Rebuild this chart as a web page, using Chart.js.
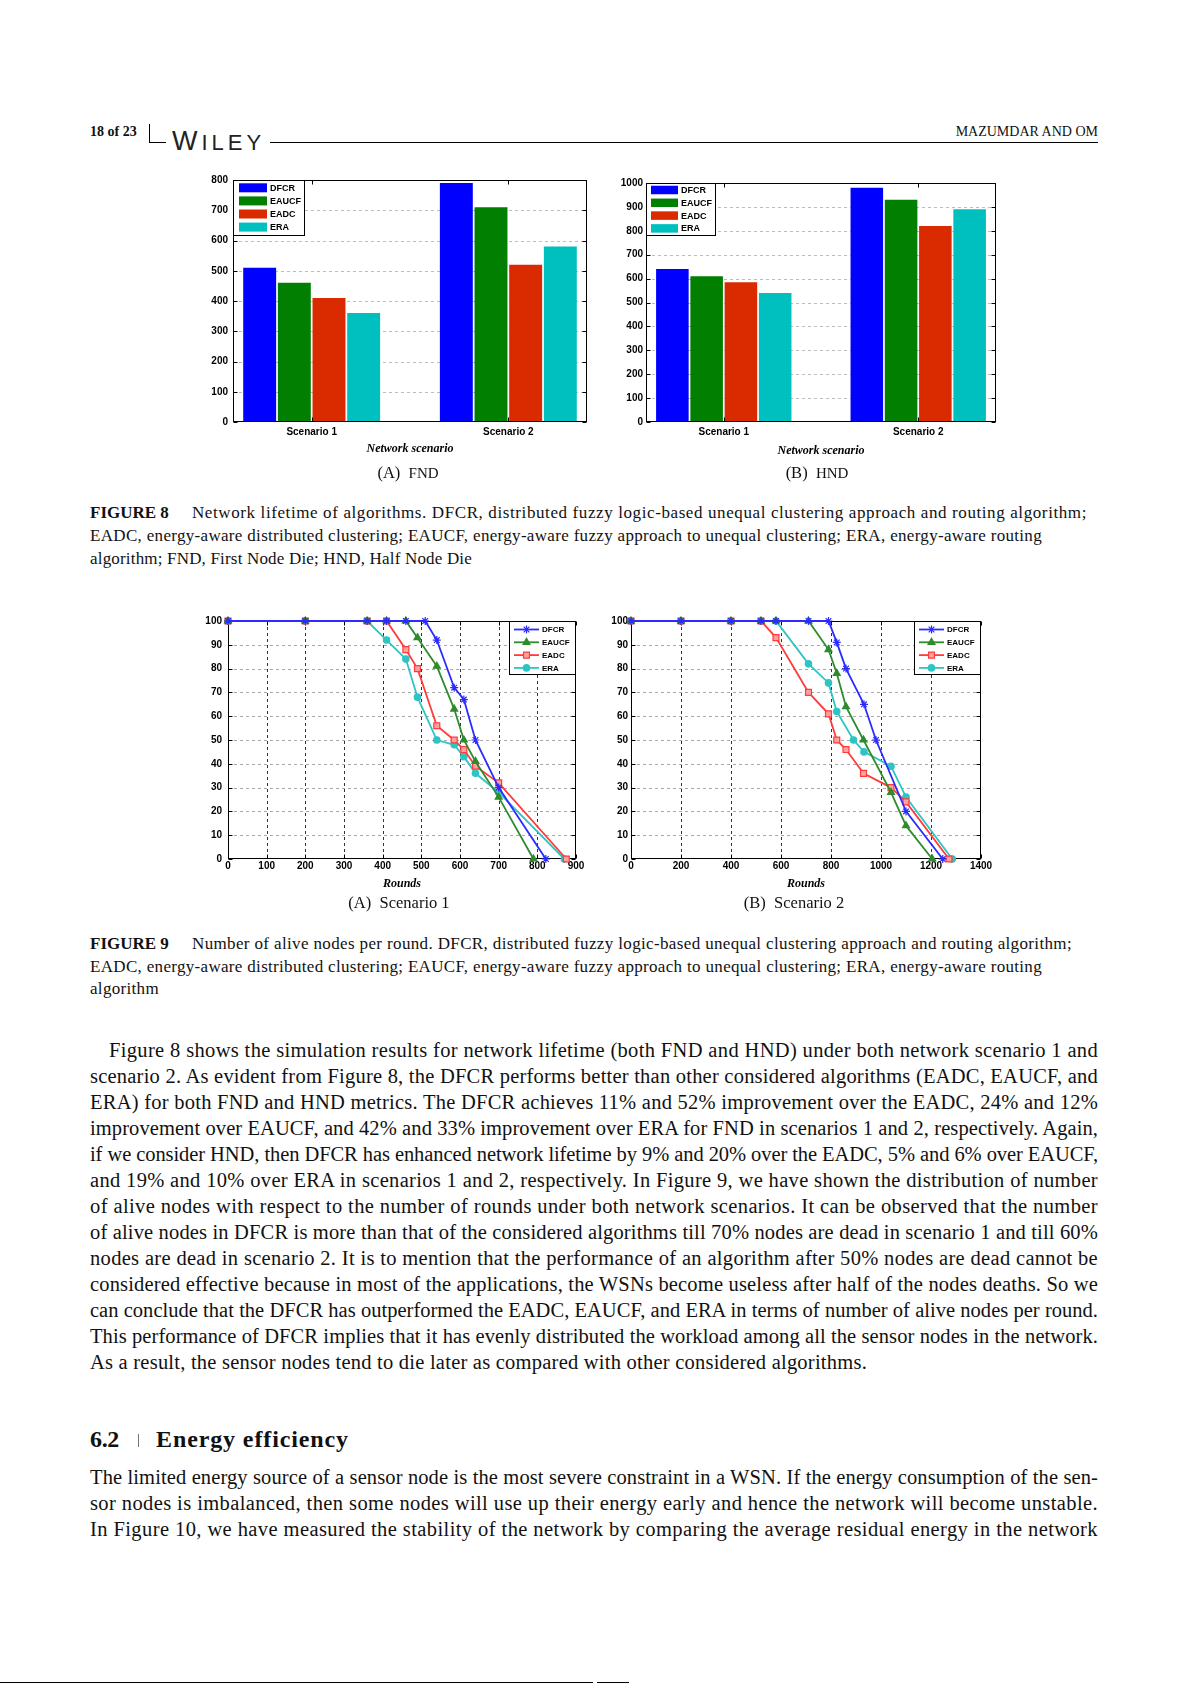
<!DOCTYPE html>
<html><head><meta charset="utf-8">
<script src="https://cdn.jsdelivr.net/npm/chart.js@4/dist/chart.umd.min.js"></script>
<style>
html,body{margin:0;padding:0;background:#fff;}
body{width:1191px;height:1685px;position:relative;overflow:hidden;}
.t{position:absolute;white-space:nowrap;font-family:"Liberation Serif","Times New Roman",serif;line-height:1.2;color:#111;}
.cap{font-size:17px;}
.body{font-size:20.5px;}
.sub{font-size:16.5px;}
canvas{position:absolute;}
.rule{position:absolute;background:#000;}
</style></head><body>

<!-- running header -->
<div class="t" data-x="90" data-y="133" style="font-size:14px;font-weight:bold;">18 of 23</div>
<div class="rule" style="left:149px;top:124px;width:1px;height:18px;"></div>
<div class="rule" style="left:149px;top:142px;width:949px;height:1px;"></div>
<div style="position:absolute;left:166px;top:128px;background:#fff;padding:0 5px 0 6px;font-family:'Liberation Sans',sans-serif;font-size:27px;line-height:1;letter-spacing:4px;color:#222;"><span>W</span><span style="font-size:22px;">ILEY</span></div>
<div class="t" data-x="1098" data-r="1" data-y="133" style="font-size:14px;">MAZUMDAR AND OM</div>

<!-- Figure 8 -->
<canvas id="c8a" width="430" height="300" style="left:180px;top:165px;width:430px;height:300px;"></canvas>
<canvas id="c8b" width="400" height="300" style="left:610px;top:165px;width:400px;height:300px;"></canvas>
<div class="t sub" data-cx="408" data-y="474">(A)&nbsp; <span style="font-size:15px;">FND</span></div>
<div class="t sub" data-cx="817" data-y="474">(B)&nbsp; <span style="font-size:15px;">HND</span></div>

<div class="t cap" data-x="90" data-y="514" style="font-weight:bold;">FIGURE 8</div>
<div class="t cap" data-x="192" data-y="514" data-w="895" data-j="1">Network lifetime of algorithms. DFCR, distributed fuzzy logic-based unequal clustering approach and routing algorithm;</div>
<div class="t cap" data-x="90" data-y="537" data-w="952" data-j="1">EADC, energy-aware distributed clustering; EAUCF, energy-aware fuzzy approach to unequal clustering; ERA, energy-aware routing</div>
<div class="t cap" data-x="90" data-y="560" data-w="383">algorithm; FND, First Node Die; HND, Half Node Die</div>

<!-- Figure 9 -->
<canvas id="c9a" width="408" height="290" style="left:190px;top:606px;width:408px;height:290px;"></canvas>
<canvas id="c9b" width="405" height="290" style="left:600px;top:606px;width:405px;height:290px;"></canvas>
<div class="t sub" data-cx="399" data-y="904">(A)&nbsp; Scenario 1</div>
<div class="t sub" data-cx="794" data-y="904">(B)&nbsp; Scenario 2</div>

<div class="t cap" data-x="90" data-y="945" style="font-weight:bold;">FIGURE 9</div>
<div class="t cap" data-x="192" data-y="945" data-w="880" data-j="1">Number of alive nodes per round. DFCR, distributed fuzzy logic-based unequal clustering approach and routing algorithm;</div>
<div class="t cap" data-x="90" data-y="968" data-w="952" data-j="1">EADC, energy-aware distributed clustering; EAUCF, energy-aware fuzzy approach to unequal clustering; ERA, energy-aware routing</div>
<div class="t cap" data-x="90" data-y="990" data-w="70">algorithm</div>

<!-- body paragraph -->
<div class="t body" data-x="109" data-y="1051" data-w="989" data-j="1">Figure 8 shows the simulation results for network lifetime (both FND and HND) under both network scenario 1 and</div>
<div class="t body" data-x="90" data-y="1077" data-w="1008" data-j="1">scenario 2. As evident from Figure 8, the DFCR performs better than other considered algorithms (EADC, EAUCF, and</div>
<div class="t body" data-x="90" data-y="1103" data-w="1008" data-j="1">ERA) for both FND and HND metrics. The DFCR achieves 11% and 52% improvement over the EADC, 24% and 12%</div>
<div class="t body" data-x="90" data-y="1129" data-w="1008" data-j="1">improvement over EAUCF, and 42% and 33% improvement over ERA for FND in scenarios 1 and 2, respectively. Again,</div>
<div class="t body" data-x="90" data-y="1155" data-w="1008" data-j="1">if we consider HND, then DFCR has enhanced network lifetime by 9% and 20% over the EADC, 5% and 6% over EAUCF,</div>
<div class="t body" data-x="90" data-y="1181" data-w="1008" data-j="1">and 19% and 10% over ERA in scenarios 1 and 2, respectively. In Figure 9, we have shown the distribution of number</div>
<div class="t body" data-x="90" data-y="1207" data-w="1008" data-j="1">of alive nodes with respect to the number of rounds under both network scenarios. It can be observed that the number</div>
<div class="t body" data-x="90" data-y="1233" data-w="1008" data-j="1">of alive nodes in DFCR is more than that of the considered algorithms till 70% nodes are dead in scenario 1 and till 60%</div>
<div class="t body" data-x="90" data-y="1259" data-w="1008" data-j="1">nodes are dead in scenario 2. It is to mention that the performance of an algorithm after 50% nodes are dead cannot be</div>
<div class="t body" data-x="90" data-y="1285" data-w="1008" data-j="1">considered effective because in most of the applications, the WSNs become useless after half of the nodes deaths. So we</div>
<div class="t body" data-x="90" data-y="1311" data-w="1008" data-j="1">can conclude that the DFCR has outperformed the EADC, EAUCF, and ERA in terms of number of alive nodes per round.</div>
<div class="t body" data-x="90" data-y="1337" data-w="1008" data-j="1">This performance of DFCR implies that it has evenly distributed the workload among all the sensor nodes in the network.</div>
<div class="t body" data-x="90" data-y="1363" data-w="778">As a result, the sensor nodes tend to die later as compared with other considered algorithms.</div>

<!-- section heading -->
<div class="t" data-x="90" data-y="1440" data-w="30" style="font-size:24px;font-weight:bold;">6.2</div>
<div class="rule" style="left:138px;top:1434px;width:1px;height:13px;background:#777;"></div>
<div class="t" data-x="156" data-y="1440" data-w="194" style="font-size:24px;font-weight:bold;">Energy efficiency</div>

<div class="t body" data-x="90" data-y="1478" data-w="1008" data-j="1">The limited energy source of a sensor node is the most severe constraint in a WSN. If the energy consumption of the sen-</div>
<div class="t body" data-x="90" data-y="1504" data-w="1008" data-j="1">sor nodes is imbalanced, then some nodes will use up their energy early and hence the network will become unstable.</div>
<div class="t body" data-x="90" data-y="1530" data-w="1008" data-j="1">In Figure 10, we have measured the stability of the network by comparing the average residual energy in the network</div>

<div class="rule" style="left:0;top:1682px;width:593px;height:1px;"></div>
<div class="rule" style="left:597px;top:1682px;width:32px;height:1px;"></div>

<script>
// ---------------- DATA ----------------
const scenarios = ['Scenario 1', 'Scenario 2'];
const algorithms = ['DFCR', 'EAUCF', 'EADC', 'ERA'];

// Figure 8 (A) FND - rounds until first node dies
const fndDFCR = [510, 790];
const fndEAUCF = [460, 710];
const fndEADC = [410, 520];
const fndERA = [360, 580];

// Figure 8 (B) HND - rounds until half of the nodes die
const hndDFCR = [640, 980];
const hndEAUCF = [610, 930];
const hndEADC = [585, 820];
const hndERA = [540, 890];

// Figure 9 (A) Scenario 1 - alive nodes per round
const s1RoundsDFCR = [0, 200, 360, 410, 460, 510, 540, 585, 610, 640, 700, 822];
const s1AliveDFCR  = [100, 100, 100, 100, 100, 100, 92, 72, 67, 50, 30, 0];
const s1RoundsEAUCF = [0, 200, 360, 410, 460, 490, 540, 585, 610, 640, 700, 790];
const s1AliveEAUCF  = [100, 100, 100, 100, 100, 93, 81, 63, 50, 41, 26, 0];
const s1RoundsEADC = [0, 200, 360, 410, 460, 490, 540, 585, 610, 640, 700, 875];
const s1AliveEADC  = [100, 100, 100, 100, 88, 80, 56, 50, 46, 39, 32, 0];
const s1RoundsERA = [0, 200, 360, 410, 460, 490, 540, 585, 610, 640, 700, 870];
const s1AliveERA  = [100, 100, 100, 92, 84, 68, 50, 48, 43, 36, 28, 0];

// Figure 9 (B) Scenario 2 - alive nodes per round
const s2RoundsDFCR = [0, 200, 400, 520, 580, 710, 790, 823, 860, 932, 980, 1100, 1247];
const s2AliveDFCR  = [100, 100, 100, 100, 100, 100, 100, 91, 80, 65, 50, 20, 0];
const s2RoundsEAUCF = [0, 200, 400, 520, 580, 710, 790, 823, 860, 930, 1040, 1100, 1205];
const s2AliveEAUCF  = [100, 100, 100, 100, 100, 100, 88, 78, 64, 50, 28, 14, 0];
const s2RoundsEADC = [0, 200, 400, 520, 580, 710, 790, 823, 860, 930, 1040, 1100, 1272];
const s2AliveEADC  = [100, 100, 100, 100, 93, 70, 61, 50, 46, 36, 30, 24, 0];
const s2RoundsERA = [0, 200, 400, 520, 580, 710, 790, 823, 890, 932, 1040, 1100, 1285];
const s2AliveERA  = [100, 100, 100, 100, 100, 82, 74, 62, 50, 45, 39, 26, 0];

// ---------------- TEXT PLACEMENT ----------------
document.querySelectorAll('.t').forEach(el => {
  const fs = parseFloat(getComputedStyle(el).fontSize);
  if (el.dataset.w) {
    const target = +el.dataset.w;
    const w = el.getBoundingClientRect().width;
    const n = el.textContent.length;
    el.style.letterSpacing = ((target - w - 1) / n) + 'px';
    if (el.dataset.j) {
      el.style.width = target + 'px';
      el.style.textAlign = 'justify';
      el.style.textAlignLast = 'justify';
    }
  }
  const w2 = el.getBoundingClientRect().width;
  let x = +el.dataset.x;
  if (el.dataset.cx) x = +el.dataset.cx - w2 / 2;
  if (el.dataset.r) x = +el.dataset.x - w2;
  el.style.left = x + 'px';
  el.style.top = (+el.dataset.y - 0.64 * fs) + 'px';
});

// ---------------- CHARTS ----------------
Chart.defaults.font.family = '"Liberation Sans", Arial, sans-serif';
Chart.defaults.font.size = 10;
Chart.defaults.font.weight = 'bold';
Chart.defaults.color = '#000';

const framePlugin = {
  id: 'frame',
  beforeDatasetsDraw(chart, args, o) {
    const {ctx, chartArea: a} = chart;
    const x = chart.scales.x, y = chart.scales.y;
    ctx.save();
    ctx.lineWidth = 1;
    if (o.hColor) {
      ctx.strokeStyle = o.hColor; ctx.setLineDash([3, 3]);
      y.ticks.forEach(t => {
        const py = Math.round(y.getPixelForValue(t.value)) + 0.5;
        if (py > a.top + 1 && py < a.bottom - 1) { ctx.beginPath(); ctx.moveTo(a.left, py); ctx.lineTo(a.right, py); ctx.stroke(); }
      });
    }
    if (o.vColor) {
      ctx.strokeStyle = o.vColor; ctx.setLineDash([3, 3]);
      x.ticks.forEach(t => {
        const px = Math.round(x.getPixelForValue(t.value)) + 0.5;
        if (px > a.left + 1 && px < a.right - 1) { ctx.beginPath(); ctx.moveTo(px, a.top); ctx.lineTo(px, a.bottom); ctx.stroke(); }
      });
    }
    ctx.setLineDash([]);
    if (!o.onTop) drawFrame(chart, o);
    ctx.restore();
  },
  afterDatasetsDraw(chart, args, o) {
    if (o.onTop) { chart.ctx.save(); drawFrame(chart, o); chart.ctx.restore(); }
  }
};
function drawFrame(chart, o) {
  const {ctx, chartArea: a} = chart;
  const x = chart.scales.x, y = chart.scales.y;
  ctx.strokeStyle = '#000'; ctx.lineWidth = 1; ctx.setLineDash([]);
  const L = Math.round(a.left) + 0.5, R = Math.round(a.right) - 0.5, T = Math.round(a.top) + 0.5, B = Math.round(a.bottom) - 0.5;
  ctx.strokeRect(L, T, R - L, B - T);
  const tl = 4;
  ctx.beginPath();
  x.ticks.forEach(t => {
    const px = Math.round(x.getPixelForValue(t.value)) + 0.5;
    ctx.moveTo(px, B); ctx.lineTo(px, B - tl); ctx.moveTo(px, T); ctx.lineTo(px, T + tl);
  });
  y.ticks.forEach(t => {
    const py = Math.round(y.getPixelForValue(t.value)) + 0.5;
    ctx.moveTo(L, py); ctx.lineTo(L + tl, py); ctx.moveTo(R, py); ctx.lineTo(R - tl, py);
  });
  ctx.stroke();
}

const legendPlugin = {
  id: 'insideLegend',
  afterDraw(chart, args, o) {
    const {ctx, chartArea: a} = chart;
    const x0 = Math.round(o.corner === 'tr' ? a.right - o.width : a.left);
    const y0 = Math.round(a.top);
    ctx.save();
    ctx.fillStyle = '#fff'; ctx.fillRect(x0, y0, o.width, o.height);
    ctx.strokeStyle = '#000'; ctx.lineWidth = 1; ctx.strokeRect(x0 + 0.5, y0 + 0.5, o.width - 1, o.height - 1);
    chart.data.datasets.forEach((ds, i) => {
      const cy = y0 + o.first + i * o.step;
      if (o.kind === 'bar') {
        ctx.fillStyle = ds.backgroundColor;
        ctx.fillRect(x0 + o.sx, cy - o.sh / 2, o.sw, o.sh);
      } else {
        ctx.strokeStyle = ds.borderColor; ctx.lineWidth = 1.8;
        ctx.beginPath(); ctx.moveTo(x0 + o.sx, cy); ctx.lineTo(x0 + o.sx + o.sw, cy); ctx.stroke();
        ctx.fillStyle = ds.pointBackgroundColor; ctx.strokeStyle = ds.pointBorderColor; ctx.lineWidth = ds.pointBorderWidth;
        if (Chart.helpers && Chart.helpers.drawPoint) {
          Chart.helpers.drawPoint(ctx, {pointStyle: ds.pointStyle, radius: ds.pointRadius, borderWidth: ds.pointBorderWidth, rotation: 0}, x0 + o.sx + o.sw / 2, cy);
        }
      }
      ctx.fillStyle = '#000';
      ctx.font = 'bold ' + o.fontSize + 'px "Liberation Sans", Arial, sans-serif';
      ctx.textBaseline = 'middle'; ctx.textAlign = 'left';
      ctx.fillText(ds.label, x0 + o.tx, cy + 0.5);
    });
    ctx.restore();
  }
};

const barColors = ['#0000ff', '#007f00', '#d92a00', '#00bfbf'];
const plainNumber = v => String(v);

function barChart(id, series, yMax, g, lg) {
  return new Chart(document.getElementById(id), {
    type: 'bar',
    data: {
      datasets: algorithms.map((name, k) => ({
        label: name,
        data: series[k].map((v, i) => ({x: i + 1, y: v})),
        backgroundColor: barColors[k],
        borderWidth: 0,
        categoryPercentage: 0.705,
        barPercentage: 0.95
      }))
    },
    options: {
      responsive: false, animation: false, devicePixelRatio: 1,
      layout: {padding: {left: 0, top: g.padTop, right: g.padRight, bottom: 0}},
      plugins: {
        legend: {display: false}, tooltip: {enabled: false},
        frame: {hColor: '#bdbdbd', onTop: true},
        insideLegend: Object.assign({kind: 'bar', corner: 'tl'}, lg)
      },
      scales: {
        x: {
          type: 'linear', min: 0.6, max: 2.4, offset: false,
          grid: {display: false, drawTicks: false}, border: {display: false},
          afterBuildTicks: s => { s.ticks = scenarios.map((_, i) => ({value: i + 1})); },
          afterFit: s => { s.height = g.xH; },
          ticks: {callback: v => scenarios[Math.round(v) - 1], padding: g.xPad, maxRotation: 0, autoSkip: false, font: {size: 10, weight: 'bold'}},
          title: {display: true, text: 'Network scenario', font: {family: '"Liberation Serif", serif', size: 12, style: 'italic', weight: 'bold'}, padding: {top: 0, bottom: g.titlePad}}
        },
        y: {
          min: 0, max: yMax,
          grid: {display: false, drawTicks: false}, border: {display: false},
          ticks: {stepSize: 100, padding: g.yPad, callback: plainNumber, font: {size: 10, weight: 'bold'}},
          afterFit: s => { s.width = g.yW; }
        }
      }
    },
    plugins: [framePlugin, legendPlugin]
  });
}

barChart('c8a', [fndDFCR, fndEAUCF, fndEADC, fndERA], 800,
  {padTop: 15, padRight: 23, xH: 43, xPad: 4, titlePad: 9, yPad: 5, yW: 53},
  {width: 72, height: 56, first: 7.8, step: 13.1, sx: 6, sw: 28, sh: 9, tx: 37, fontSize: 9});
barChart('c8b', [hndDFCR, hndEAUCF, hndEADC, hndERA], 1000,
  {padTop: 18, padRight: 14, xH: 43, xPad: 4, titlePad: 7, yPad: 3, yW: 36},
  {width: 70, height: 53, first: 7, step: 12.8, sx: 5, sw: 27, sh: 8.5, tx: 35, fontSize: 9});

const lineStyles = [
  {color: '#2b2bff', fill: '#2b2bff', pt: 'star', r: 4},
  {color: '#2e8b2e', fill: '#2e8b2e', pt: 'triangle', r: 4},
  {color: '#ff3b3b', fill: '#ffa0a0', pt: 'rect', r: 4.2},
  {color: '#2ec4c4', fill: '#2ec4c4', pt: 'circle', r: 3.2}
];

function lineChart(id, rounds, alive, xMax, xStep, g) {
  return new Chart(document.getElementById(id), {
    type: 'line',
    data: {
      datasets: algorithms.map((name, k) => ({
        label: name,
        data: rounds[k].map((r, i) => ({x: r, y: alive[k][i]})),
        borderColor: lineStyles[k].color,
        backgroundColor: lineStyles[k].fill,
        pointStyle: lineStyles[k].pt,
        pointRadius: lineStyles[k].r,
        pointBorderColor: lineStyles[k].color,
        pointBackgroundColor: lineStyles[k].fill,
        pointBorderWidth: 1.2,
        borderWidth: 1.8,
        tension: 0,
        fill: false,
        clip: 8
      }))
    },
    options: {
      responsive: false, animation: false, devicePixelRatio: 1,
      layout: {padding: {left: 0, top: g.padTop, right: g.padRight, bottom: 0}},
      plugins: {
        legend: {display: false}, tooltip: {enabled: false},
        frame: {hColor: '#a8a8a8', vColor: '#333333', onTop: false},
        insideLegend: {kind: 'line', corner: 'tr', width: 67, height: 54, first: 8.5, step: 12.8, sx: 5, sw: 25, tx: 33, fontSize: 8}
      },
      scales: {
        x: {
          type: 'linear', min: 0, max: xMax,
          grid: {display: false, drawTicks: false}, border: {display: false},
          ticks: {stepSize: xStep, padding: g.xPad, callback: plainNumber, maxRotation: 0, autoSkip: false, font: {size: 10, weight: 'bold'}},
          afterFit: s => { s.height = g.xH; },
          title: {display: true, text: 'Rounds', font: {family: '"Liberation Serif", serif', size: 12, style: 'italic', weight: 'bold'}, padding: {top: 0, bottom: g.titlePad}}
        },
        y: {
          min: 0, max: 100,
          grid: {display: false, drawTicks: false}, border: {display: false},
          ticks: {stepSize: 10, padding: g.yPad, callback: plainNumber, font: {size: 10, weight: 'bold'}},
          afterFit: s => { s.width = g.yW; }
        }
      }
    },
    plugins: [framePlugin, legendPlugin]
  });
}

lineChart('c9a',
  [s1RoundsDFCR, s1RoundsEAUCF, s1RoundsEADC, s1RoundsERA],
  [s1AliveDFCR, s1AliveEAUCF, s1AliveEADC, s1AliveERA],
  900, 100,
  {padTop: 15, padRight: 22, xH: 37, xPad: 1, titlePad: 5, yPad: 6, yW: 38});
lineChart('c9b',
  [s2RoundsDFCR, s2RoundsEAUCF, s2RoundsEADC, s2RoundsERA],
  [s2AliveDFCR, s2AliveEAUCF, s2AliveEADC, s2AliveERA],
  1400, 200,
  {padTop: 15, padRight: 24, xH: 37, xPad: 1, titlePad: 5, yPad: 3, yW: 31});
</script>
</body></html>
